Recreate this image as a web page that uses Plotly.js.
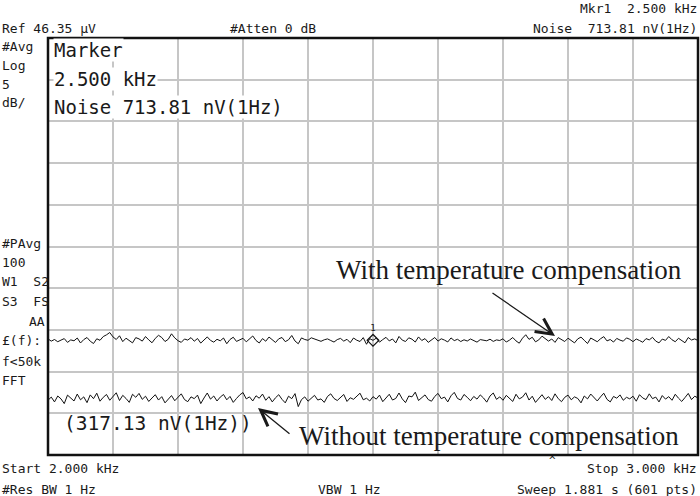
<!DOCTYPE html>
<html>
<head>
<meta charset="utf-8">
<script src="https://cdn.plot.ly/plotly-3.0.1.min.js"></script>
<style>html,body{margin:0;padding:0;background:#fff;}#chart{width:700px;height:496px;}</style>
</head>
<body>
<div id="chart"></div>
<script>
// Sweep settings (instrument readout)
const startFreqHz = 2000;
const stopFreqHz = 3000;
const freqStepHz = 5;
const refLevelNV = 46350;     // Ref 46.35 uV
const dBPerDiv = 5;
const markerFreqHz = 2500;
const markerNoiseNV = 713.81;

// Noise trace with temperature compensation (nV/sqrt(Hz)), every 5 Hz
const withComp = [
728,706,722,700,716,731,694,718,709,737,688,721,742,705,683,729,714,752,770,795,
748,722,760,701,735,712,689,741,728,706,752,718,690,733,765,742,702,724,781,738,
710,694,727,716,741,705,732,687,719,748,713,696,724,709,737,681,722,745,703,718,
734,699,726,758,712,688,731,705,747,716,693,729,742,701,719,763,707,681,738,722,
714,739,726,709,704,719,728,712,697,721,733,706,724,691,737,715,702,741,676,730,
714,735,696,721,744,708,727,689,753,716,702,739,725,697,748,712,731,694,720,742,
706,729,716,698,738,711,724,702,719,707,727,713,696,721,716,709,725,703,718,712,
729,697,716,742,708,686,735,771,723,745,699,718,756,731,706,727,694,741,719,702,
735,711,689,728,746,714,683,737,719,700,729,751,708,722,697,733,716,705,738,724,
701,727,712,695,731,718,744,706,689,726,713,752,719,700,734,709,690,742,717,728,
711];

// Noise trace without temperature compensation (nV/sqrt(Hz)), every 5 Hz
const withoutComp = [
312,326,305,331,318,298,335,321,309,340,314,327,302,336,319,344,308,325,338,312,
329,346,311,334,320,303,339,325,343,316,330,307,322,337,313,328,301,318,333,310,
324,341,315,306,327,319,335,298,322,345,317,331,309,326,338,314,329,303,320,336,
347,318,327,309,332,321,340,312,328,305,323,337,316,301,330,319,342,286,315,327,
308,322,334,313,318,303,329,341,320,311,326,338,307,323,316,330,344,314,321,309,
328,317,335,306,324,339,313,320,345,318,302,331,327,349,311,324,336,315,308,329,
343,319,326,305,332,348,320,313,338,325,310,329,317,336,322,304,331,345,316,327,
312,334,321,307,339,318,326,346,313,330,303,322,337,316,328,311,341,319,306,325,
335,314,327,320,301,331,318,340,323,309,327,344,316,305,329,321,336,312,325,318,
330,308,337,322,315,341,319,326,305,333,317,328,312,339,321,307,324,343,315,330,
322];

// Screen readout texts
const headerLeft = ["Ref 46.35 μV", "#Atten 0 dB"];
const headerRight = ["Mkr1  2.500 kHz", "Noise  713.81 nV(1Hz)"];
const sideTop = ["#Avg", "Log", "5", "dB/"];
const sideMid = ["#PAvg", "100", "W1  S2", "S3  FS", "AA", "£(f):", "f<50k", "FFT"];
const footer = ["Start 2.000 kHz", "#Res BW 1 Hz", "VBW 1 Hz", "Stop 3.000 kHz", "Sweep 1.881 s (601 pts)"];
const markerBox = ["Marker", "2.500 kHz", "Noise 713.81 nV(1Hz)"];
const otherReading = "(317.13 nV(1Hz))";
const labelWith = "With temperature compensation";
const labelWithout = "Without temperature compensation";

// ---- layout helpers (pixel -> paper) ----
const L = 48, R = 698, T = 38, B = 455;
const px = x => (x - L) / (R - L);
const py = y => (B - y) / (B - T);

const mono = "DejaVu Sans Mono, monospace";
const serif = "Liberation Serif, Times New Roman, serif";
const ink = "#1a1a1a";

function txt(text, x, y, xanchor, size, font, extra) {
  return Object.assign({
    text: text, xref: "paper", yref: "paper", x: px(x), y: py(y),
    xanchor: xanchor, yanchor: "middle", showarrow: false,
    font: {family: font || mono, size: size || 13, color: ink}
  }, extra || {});
}

const annotations = [];
annotations.push(txt(headerLeft[0], 0, 29, "left"));
annotations.push(txt(headerLeft[1], 228, 29, "left"));
annotations.push(txt(headerRight[0], 699, 8, "right"));
annotations.push(txt(headerRight[1], 699, 29, "right"));
const sideTopY = [47, 65, 84, 102];
sideTop.forEach((s, i) => annotations.push(txt(s, 0, sideTopY[i], "left")));
const sideMidY = [243, 262, 281, 301, 321, 340, 361, 380];
sideMid.forEach((s, i) => {
  if (s === "AA") annotations.push(txt(s, 47, sideMidY[i], "right"));
  else annotations.push(txt(s, 0, sideMidY[i], "left"));
});
annotations.push(txt(footer[0], 0, 468, "left"));
annotations.push(txt(footer[1], 0, 489, "left"));
annotations.push(txt(footer[2], 316, 489, "left"));
annotations.push(txt(footer[3], 699, 468, "right"));
annotations.push(txt(footer[4], 699, 489, "right"));
annotations.push(txt("^", 552, 461, "center", 11));

const boxY = [50, 79, 107];
markerBox.forEach((s, i) => annotations.push(txt(s, 53, boxY[i], "left", 19, mono, {bgcolor: "#ffffff", borderpad: 0})));
annotations.push(txt(otherReading, 62, 423, "left", 19.5));
annotations.push(txt(labelWith, 334, 270, "left", 27, serif));
annotations.push(txt(labelWithout, 297, 436, "left", 27, serif));

// arrows
annotations.push({xref: "paper", yref: "paper", x: px(555), y: py(336), ax: -64, ay: -44,
  axref: "pixel", ayref: "pixel", text: "", showarrow: true, arrowhead: 5, arrowsize: 2.4,
  arrowwidth: 1.3, arrowcolor: ink});
annotations.push({xref: "paper", yref: "paper", x: px(258), y: py(408), ax: 33, ay: 27,
  axref: "pixel", ayref: "pixel", text: "", showarrow: true, arrowhead: 5, arrowsize: 2.4,
  arrowwidth: 1.3, arrowcolor: ink});

const logTop = Math.log10(refLevelNV);
const logSpan = 10 * dBPerDiv / 20;

const traces = [
  {type: "scatter", mode: "lines", x0: startFreqHz, dx: freqStepHz, y: withComp,
   line: {color: "#111", width: 1}, hoverinfo: "skip"},
  {type: "scatter", mode: "lines", x0: startFreqHz, dx: freqStepHz, y: withoutComp,
   line: {color: "#111", width: 1}, hoverinfo: "skip"},
  {type: "scatter", mode: "markers+text", x: [markerFreqHz], y: [markerNoiseNV],
   marker: {symbol: "diamond-open", size: 9, color: "#111", line: {width: 1.2}},
   text: ["1"], textposition: "top center", textfont: {family: mono, size: 9, color: ink}}
];

const layout = {
  width: 700, height: 496,
  margin: {l: L, r: 700 - R, t: T, b: 496 - B, pad: 0},
  paper_bgcolor: "#fff", plot_bgcolor: "#fff",
  showlegend: false,
  xaxis: {range: [startFreqHz, stopFreqHz], dtick: 100, tick0: startFreqHz,
    showgrid: true, gridcolor: "#c6c6c6", gridwidth: 2, zeroline: false,
    showticklabels: false, ticks: "", showline: false, fixedrange: true},
  yaxis: {type: "log", range: [logTop - logSpan, logTop], dtick: dBPerDiv / 20, tick0: logTop,
    showgrid: true, gridcolor: "#c6c6c6", gridwidth: 2, zeroline: false,
    showticklabels: false, ticks: "", showline: false, fixedrange: true},
  shapes: [
    {type: "rect", xref: "paper", yref: "paper", x0: 0, x1: 1, y0: 0, y1: 1,
     line: {color: "#111", width: 2.5}, layer: "above"}
  ],
  annotations: annotations
};

Plotly.newPlot("chart", traces, layout, {staticPlot: true, displayModeBar: false});
</script>
</body>
</html>
